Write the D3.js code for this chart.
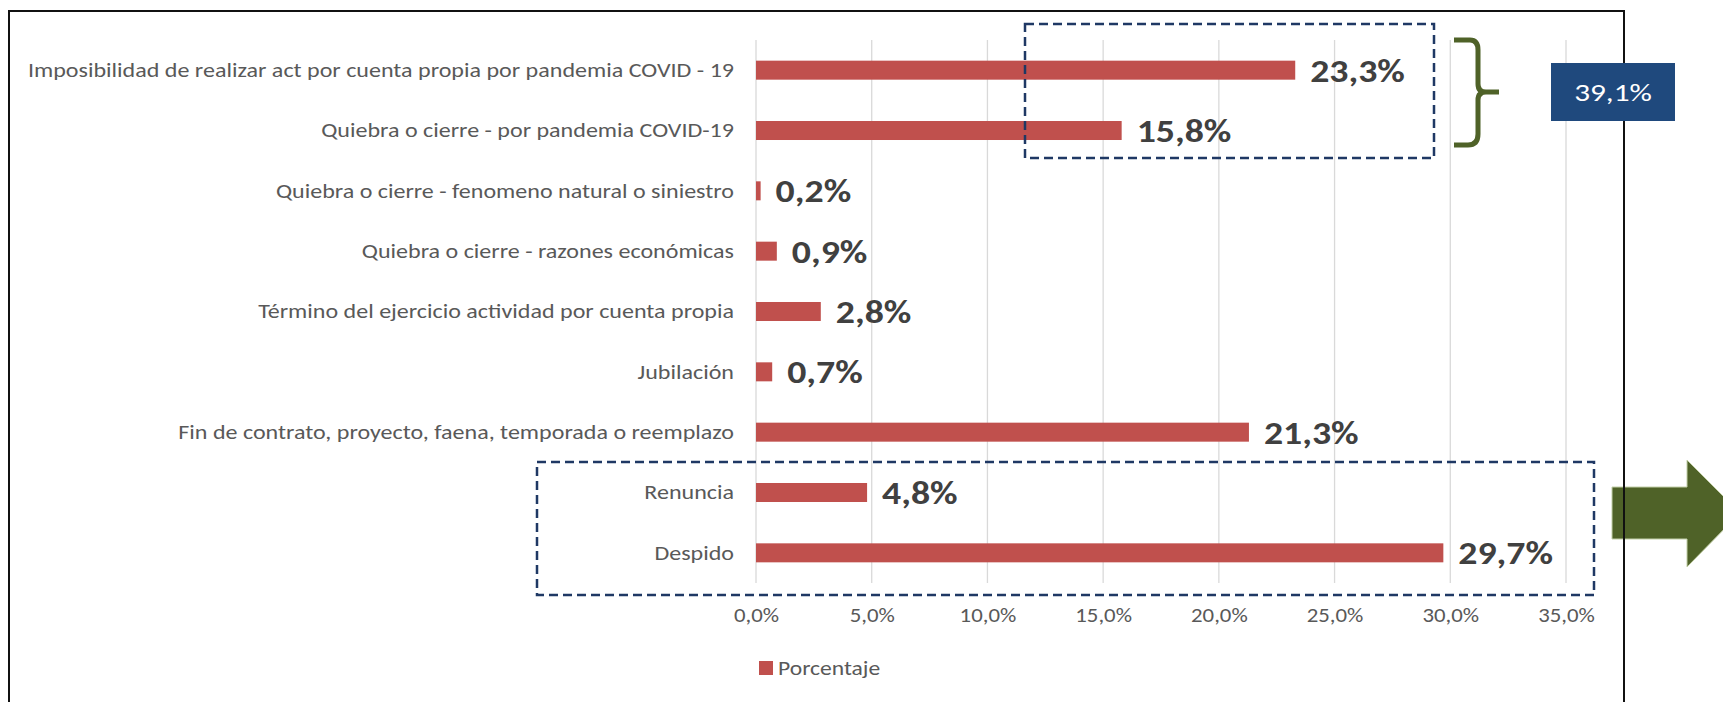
<!DOCTYPE html>
<html>
<head>
<meta charset="utf-8">
<script src="https://cdn.jsdelivr.net/npm/d3@7"></script>
<style>
  body { margin: 0; background: #fff; }
  svg { display: block; font-family: Carlito, Calibri, Lato, sans-serif; }
</style>
</head>
<body>
<svg id="chart" width="1723" height="702"></svg>
<script>
// Categories, top to bottom
const categories = [
    "Imposibilidad de realizar act por cuenta propia por pandemia COVID - 19",
    "Quiebra o cierre - por pandemia COVID-19",
    "Quiebra o cierre - fenomeno natural o siniestro",
    "Quiebra o cierre - razones económicas",
    "Término del ejercicio actividad por cuenta propia",
    "Jubilación",
    "Fin de contrato, proyecto, faena, temporada o reemplazo",
    "Renuncia",
    "Despido"
];

// Porcentaje (%)
const values = [23.3, 15.8, 0.2, 0.9, 2.8, 0.7, 21.3, 4.8, 29.7];

// x axis ticks (%)
const xTicks = [0, 5, 10, 15, 20, 25, 30, 35];

const seriesName = "Porcentaje";

// Spanish number format: comma as decimal separator
const locale = d3.formatLocale({ decimal: ",", thousands: ".", grouping: [3], currency: ["$", ""] });
const pct = locale.format(".1%");

// the original text is wider than Lato at the same height, so stretch it a bit
const stretch = function (sel, k) {
    sel.each(function () {
        const w = this.getComputedTextLength();
        d3.select(this).attr("textLength", w * k).attr("lengthAdjust", "spacingAndGlyphs");
    });
}

const svg = d3.select("#chart");

const x = d3.scaleLinear().domain([0, 35]).range([756, 1566]);
const y = d3.scaleBand().domain(categories).range([40, 583])
    .paddingInner(0.685).paddingOuter(0.3425);

// green arrow (under the frame line)
const arrow = [[1612, 487], [1687, 487], [1687, 460], [1740, 513], [1687, 567], [1687, 539], [1612, 539]];
svg.append("polygon")
    .attr("points", arrow.map(p => p.join(",")).join(" "))
    .attr("fill", "#4f6228")
    .attr("stroke", "#c3cfa8")
    .attr("stroke-width", 1);

// outer frame
svg.append("rect")
    .attr("x", 9).attr("y", 11)
    .attr("width", 1615).attr("height", 720)
    .attr("fill", "none")
    .attr("stroke", "#111")
    .attr("stroke-width", 2);

// gridlines
svg.append("g")
    .selectAll("line")
    .data(xTicks)
    .enter()
    .append("line")
    .attr("x1", d => x(d)).attr("x2", d => x(d))
    .attr("y1", 40).attr("y2", 583)
    .attr("stroke", "#d9d9d9")
    .attr("stroke-width", 1.3);

// x axis labels
const xAxis = svg.append("g")
    .attr("transform", "translate(0,583)")
    .call(d3.axisBottom(x).tickValues(xTicks).tickSize(0).tickPadding(25)
        .tickFormat(d => pct(d / 100)));
xAxis.select(".domain").remove();
xAxis.selectAll("text")
    .attr("fill", "#595959")
    .style("font-size", "20px")
    .style("font-family", "Carlito, Calibri, Lato, sans-serif")
    .call(stretch, 1.14);

// category labels
const yAxis = svg.append("g")
    .attr("transform", "translate(756,0)")
    .call(d3.axisLeft(y).tickSize(0).tickPadding(22));
yAxis.select(".domain").remove();
yAxis.selectAll("text")
    .attr("fill", "#595959")
    .style("font-size", "21px")
    .style("font-family", "Carlito, Calibri, Lato, sans-serif")
    .call(stretch, 1.145);

// bars
svg.append("g")
    .selectAll("rect")
    .data(values)
    .enter()
    .append("rect")
    .attr("x", x(0))
    .attr("y", (d, i) => y(categories[i]))
    .attr("width", d => x(d) - x(0))
    .attr("height", y.bandwidth())
    .attr("fill", "#c0504d");

// value labels
svg.append("g")
    .selectAll("text")
    .data(values)
    .enter()
    .append("text")
    .attr("x", d => x(d) + 15)
    .attr("y", (d, i) => y(categories[i]) + y.bandwidth() / 2)
    .attr("dy", "0.36em")
    .attr("fill", "#404040")
    .style("font-size", "32px")
    .style("font-weight", "bold")
    .text(d => pct(d / 100))
    .call(stretch, 1.18);

// dashed boxes
const dashed = [
    { x: 1025, y: 24, w: 409, h: 134 },
    { x: 537, y: 462, w: 1057, h: 133 }
];
svg.append("g")
    .selectAll("rect")
    .data(dashed)
    .enter()
    .append("rect")
    .attr("x", d => d.x).attr("y", d => d.y)
    .attr("width", d => d.w).attr("height", d => d.h)
    .attr("fill", "none")
    .attr("stroke", "#1f3864")
    .attr("stroke-width", 2.5)
    .attr("stroke-dasharray", "9,5");

// brace
svg.append("path")
    .attr("d", "M1454,40 L1470,40 Q1478,40 1478,50 L1478,84 Q1478,92 1486,92 L1499,92 " +
               "M1486,92 Q1478,92 1478,100 L1478,134 Q1478,145 1468,145 L1454,145")
    .attr("fill", "none")
    .attr("stroke", "#4f6228")
    .attr("stroke-width", 5);

// total box
const total = values[0] + values[1];
svg.append("rect")
    .attr("x", 1551).attr("y", 63)
    .attr("width", 124).attr("height", 58)
    .attr("fill", "#1f497d");
svg.append("text")
    .attr("x", 1613).attr("y", 92)
    .attr("dy", "0.36em")
    .attr("text-anchor", "middle")
    .attr("fill", "#fff")
    .style("font-size", "25px")
    .text(pct(total / 100))
    .call(stretch, 1.25);

// legend
const legend = svg.append("g").attr("transform", "translate(759,661)");
legend.append("rect")
    .attr("width", 14).attr("height", 14)
    .attr("fill", "#c0504d");
legend.append("text")
    .attr("x", 19).attr("y", 7)
    .attr("dy", "0.36em")
    .attr("fill", "#595959")
    .style("font-size", "20px")
    .text(seriesName)
    .call(stretch, 1.18);
</script>
</body>
</html>
